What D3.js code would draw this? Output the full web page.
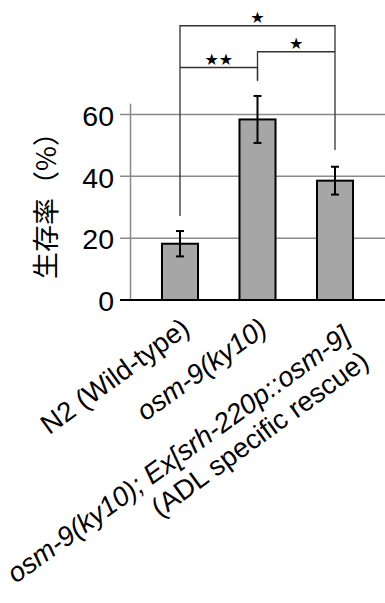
<!DOCTYPE html>
<html>
<head>
<meta charset="utf-8">
<script src="https://cdn.jsdelivr.net/npm/d3@7"></script>
<style>
  body { margin: 0; background: #fff; }
  svg { display: block; }
  text { font-family: "Liberation Sans", Arial, sans-serif; fill: #000; }
</style>
</head>
<body>
<svg id="SurvivalChart"></svg>
<script>
// survival rate per strain (%), mean and error
var strains = ["N2", "osm9", "rescue"];
var survival = [18.2, 58.4, 38.6];
var errors = [4.1, 7.6, 4.5];
var yTicks = [0, 20, 40, 60];

// x labels, each line: [text, italic?]
var labelLines = [
    [[["N2 (Wild-type)", false]]],
    [[["osm-9(ky10)", true]]],
    [[["osm-9(ky10); Ex[srh-220p::osm-9]", true]], [["(ADL specific rescue)", false]]]
];

// significance brackets: from strain, to strain, bracket height, leg bottoms (in % units), mark
var brackets = [
    {from: "N2", to: "rescue", top: 88.7, legFrom: 27.2, legTo: 48.5, mark: "★"},
    {from: "N2", to: "osm9", top: 75.2, legFrom: 75.2, legTo: 70.9, mark: "★★"},
    {from: "osm9", to: "rescue", top: 80.3, legFrom: 70.9, legTo: 80.3, mark: "★"}
];

var screen = {width: 385, height: 603};

var svg = d3.select("#SurvivalChart")
    .attr("width", screen.width)
    .attr("height", screen.height);

var xScale = d3.scaleBand()
    .domain(strains)
    .range([141.25, 373.75])
    .paddingInner(0.535)
    .paddingOuter(0.2675);

var yScale = d3.scaleLinear()
    .domain([0, 60])
    .range([300, 114.5]);

var center = function(s) { return xScale(s) + xScale.bandwidth() / 2; };

// gridlines
svg.append("g")
    .selectAll("line")
    .data(yTicks.filter(function(t) { return t > 0; }))
    .enter()
    .append("line")
    .attr("x1", 120)
    .attr("x2", 385)
    .attr("y1", function(t) { return yScale(t); })
    .attr("y2", function(t) { return yScale(t); })
    .attr("stroke", "#8a8a8a")
    .attr("stroke-width", 1.5);

// vertical axis line
svg.append("line")
    .attr("x1", 130.5).attr("x2", 130.5)
    .attr("y1", yScale(63.5)).attr("y2", yScale(0))
    .attr("stroke", "#8a8a8a")
    .attr("stroke-width", 1.5);

// tick labels
svg.append("g")
    .selectAll("text")
    .data(yTicks)
    .enter()
    .append("text")
    .attr("x", 114)
    .attr("y", function(t) { return yScale(t) + 1; })
    .attr("dy", "0.36em")
    .attr("text-anchor", "end")
    .style("font-size", "28.5px")
    .text(function(t) { return t; });

// bars
svg.append("g")
    .selectAll("rect")
    .data(survival)
    .enter()
    .append("rect")
    .attr("x", function(d, i) { return xScale(strains[i]); })
    .attr("y", function(d) { return yScale(d); })
    .attr("width", xScale.bandwidth())
    .attr("height", function(d) { return yScale(0) - yScale(d); })
    .attr("fill", "#a6a6a6")
    .attr("stroke", "#000")
    .attr("stroke-width", 2);

// x axis line
svg.append("line")
    .attr("x1", 120).attr("x2", 385)
    .attr("y1", yScale(0)).attr("y2", yScale(0))
    .attr("stroke", "#000")
    .attr("stroke-width", 2);

// error bars
var errG = svg.append("g")
    .attr("stroke", "#000")
    .attr("stroke-width", 2);
survival.forEach(function(v, i) {
    var cx = center(strains[i]);
    var hi = yScale(v + errors[i]), lo = yScale(v - errors[i]);
    errG.append("line").attr("x1", cx).attr("x2", cx).attr("y1", hi).attr("y2", lo);
    errG.append("line").attr("x1", cx - 4).attr("x2", cx + 4).attr("y1", hi).attr("y2", hi);
    errG.append("line").attr("x1", cx - 4).attr("x2", cx + 4).attr("y1", lo).attr("y2", lo);
});

// significance brackets
var brG = svg.append("g");
brackets.forEach(function(b) {
    var x1 = center(b.from), x2 = center(b.to), yt = yScale(b.top);
    brG.append("path")
        .attr("d", "M" + x1 + "," + yScale(b.legFrom) + "V" + yt + "H" + x2 + "V" + yScale(b.legTo))
        .attr("fill", "none")
        .attr("stroke", "#333")
        .attr("stroke-width", 1.3);
    brG.append("text")
        .attr("x", (x1 + x2) / 2)
        .attr("y", yt - 3)
        .attr("text-anchor", "middle")
        .style("font-family", "DejaVu Sans")
        .style("font-size", "16px")
        .text(b.mark);
});

// y label
svg.append("text")
    .attr("transform", "translate(56,199) rotate(-90)")
    .attr("text-anchor", "middle")
    .style("font-family", "'Noto Sans CJK JP'")
    .style("font-size", "27px")
    .text("生存率（%）");

// x labels, rotated
labelLines.forEach(function(lines, i) {
    var t = svg.append("text")
        .attr("transform", "translate(" + (center(strains[i]) + 11.5) + "," + (yScale(0) + 32) + ") rotate(-36)")
        .attr("text-anchor", "end")
        .style("font-size", "27.5px");
    lines.forEach(function(parts, j) {
        parts.forEach(function(p, k) {
            var ts = t.append("tspan")
                .style("font-style", p[1] ? "italic" : "normal")
                .text(p[0]);
            if (k == 0) {
                var shift = j == 0 ? (lines.length > 1 ? "0.35em" : 0) : "1.14em";
                ts.attr("x", 0).attr("dy", shift);
            }
        });
    });
});
</script>
</body>
</html>
